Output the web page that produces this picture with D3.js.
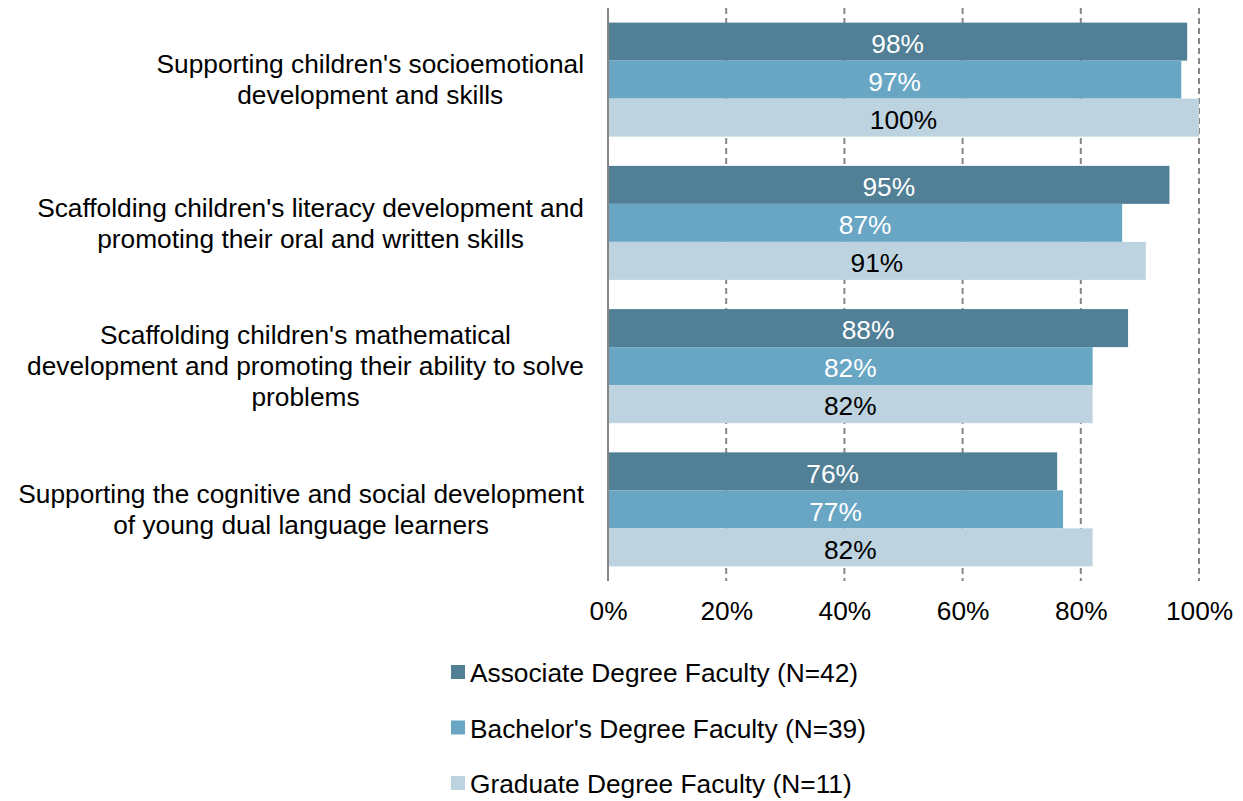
<!DOCTYPE html>
<html>
<head>
<meta charset="utf-8">
<script src="https://cdn.jsdelivr.net/npm/d3@7"></script>
<style>
  body { margin: 0; background: #fff; }
  text { font-family: "Liberation Sans", Arial, sans-serif; }
</style>
</head>
<body>
<div id="chart"></div>
<script>
var categories = [
    ["Supporting children's socioemotional", "development and skills"],
    ["Scaffolding children's literacy development and", "promoting their oral and written skills"],
    ["Scaffolding children's mathematical", "development and promoting their ability to solve", "problems"],
    ["Supporting the cognitive and social development", "of young dual language learners"]
];
var series = ["Associate Degree Faculty (N=42)", "Bachelor's Degree Faculty (N=39)", "Graduate Degree Faculty (N=11)"];
var associate = [98, 95, 88, 76];
var bachelor = [97, 87, 82, 77];
var graduate = [100, 91, 82, 82];
var ticks = [0, 20, 40, 60, 80, 100];

var colours = ['#517f96', '#68a6c4', '#bdd3df'];
var label_colours = ['#ffffff', '#ffffff', '#000000'];
var fs = 26.3;

var width = 1243, height = 801;
var margin = { top: 8, left: 608, right: 44, bottom: 220 };
var plot_w = width - margin.left - margin.right,
    plot_h = height - margin.top - margin.bottom;

var svg = d3.select('#chart').append('svg')
    .attr('width', width)
    .attr('height', height);

var g = svg.append('g')
    .attr('transform', `translate(${margin.left},${margin.top})`);

var x = d3.scaleLinear()
    .domain([0, 100])
    .range([0, plot_w]);

var y = d3.scaleBand()
    .domain(d3.range(categories.length))
    .range([0, plot_h])
    .paddingInner(0.204)
    .paddingOuter(0.102);

var y_inner = d3.scaleBand()
    .domain(d3.range(series.length))
    .range([0, y.bandwidth()]);

// dashed gridlines
g.selectAll('.grid')
    .data(ticks.slice(1))
    .enter()
    .append('line')
        .attr('x1', d => x(d)).attr('x2', d => x(d))
        .attr('y1', 0).attr('y2', plot_h)
        .attr('stroke', '#868686')
        .attr('stroke-width', 2)
        .attr('stroke-dasharray', '6,4');

var data = [];
categories.forEach((c, i) => {
    [associate, bachelor, graduate].forEach((s, j) => data.push({ cat: i, s: j, v: s[i] }));
});

g.selectAll('.bar')
    .data(data)
    .enter()
    .append('rect')
        .attr('x', x(0) + 1)
        .attr('y', d => y(d.cat) + y_inner(d.s))
        .attr('width', d => x(d.v) - x(0) - 1)
        .attr('height', y_inner.bandwidth())
        .attr('fill', d => colours[d.s]);

g.selectAll('.val')
    .data(data)
    .enter()
    .append('text')
        .attr('x', d => (x(0) + x(d.v)) / 2)
        .attr('y', d => y(d.cat) + y_inner(d.s) + y_inner.bandwidth() / 2 + 2)
        .attr('dy', '0.35em')
        .attr('text-anchor', 'middle')
        .attr('font-size', fs)
        .attr('fill', d => label_colours[d.s])
        .text(d => d.v + '%');

// y axis line
g.append('line')
    .attr('x1', 0).attr('x2', 0)
    .attr('y1', 0).attr('y2', plot_h)
    .attr('stroke', '#868686')
    .attr('stroke-width', 2);

// x tick labels
var xa = g.append('g')
    .attr('transform', `translate(0,${plot_h})`)
    .call(d3.axisBottom(x).tickValues(ticks).tickFormat(d => d + '%').tickSize(0).tickPadding(20));
xa.select('.domain').remove();
xa.selectAll('text')
    .attr('font-size', fs)
    .attr('font-family', '"Liberation Sans", Arial, sans-serif')
    .attr('fill', '#000');

// category labels, each block centred on its widest line, right edge at 584
var line_h = 31;
categories.forEach((lines, i) => {
    var t = svg.append('text')
        .attr('font-size', fs)
        .attr('fill', '#000')
        .attr('text-anchor', 'middle');
    var cy = margin.top + y(i) + y.bandwidth() / 2;
    var tsp = lines.map((l, k) => t.append('tspan')
        .attr('y', cy + (k - (lines.length - 1) / 2) * line_h)
        .attr('dy', '0.35em')
        .text(l));
    var max_w = d3.max(tsp, s => s.node().getComputedTextLength());
    tsp.forEach(s => s.attr('x', 584 - max_w / 2));
});

// legend
var legend = svg.append('g');
series.forEach((s, i) => {
    var ly = 672 + i * 55.5;
    legend.append('rect')
        .attr('x', 451).attr('y', ly - 7)
        .attr('width', 14).attr('height', 14)
        .attr('fill', colours[i]);
    legend.append('text')
        .attr('x', 470).attr('y', ly + 1)
        .attr('dy', '0.35em')
        .attr('font-size', fs)
        .attr('fill', '#000')
        .text(s);
});
</script>
</body>
</html>
